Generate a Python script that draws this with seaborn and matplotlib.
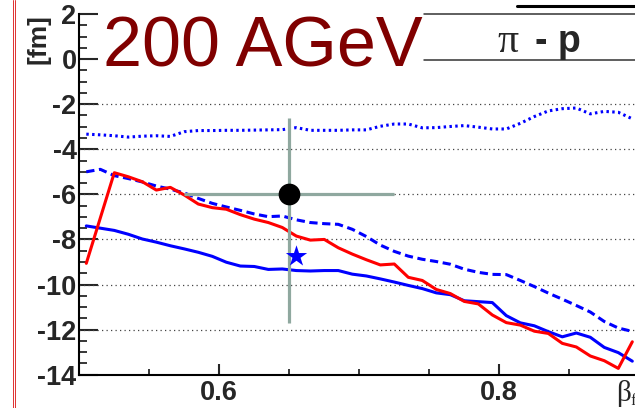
import numpy as np
import pandas as pd
import seaborn as sns
import matplotlib
matplotlib.use("Agg")
import matplotlib.pyplot as plt
from matplotlib.lines import Line2D

# beta_f bin centres
beta_f = [0.505, 0.515, 0.525, 0.535, 0.545, 0.555, 0.565, 0.575, 0.585, 0.595,
          0.605, 0.615, 0.625, 0.635, 0.645, 0.655, 0.665, 0.675, 0.685, 0.695,
          0.705, 0.715, 0.725, 0.735, 0.745, 0.755, 0.765, 0.775, 0.785, 0.795,
          0.805, 0.815, 0.825, 0.835, 0.845, 0.855, 0.865, 0.875, 0.885, 0.895]

# correlation radius [fm], pi - p
red_solid = [-9.06, -7.05, -5.04, -5.22, -5.44, -5.81, -5.69, -6.03, -6.43, -6.59,
             -6.66, -6.90, -7.10, -7.25, -7.47, -7.85, -8.03, -8.00, -8.37, -8.65,
             -8.90, -9.13, -9.09, -9.68, -9.82, -10.22, -10.40, -10.75, -10.86, -11.35,
             -11.69, -11.80, -12.07, -12.17, -12.61, -12.77, -13.17, -13.38, -13.72, -12.54]

blue_solid = [-7.40, -7.50, -7.60, -7.77, -7.98, -8.12, -8.28, -8.42, -8.57, -8.75,
              -9.01, -9.18, -9.20, -9.33, -9.31, -9.38, -9.40, -9.38, -9.38, -9.54,
              -9.62, -9.75, -9.89, -10.04, -10.18, -10.37, -10.45, -10.72, -10.76, -10.80,
              -11.38, -11.70, -11.83, -12.09, -12.32, -12.15, -12.34, -12.79, -13.02, -13.40]

blue_dashed = [-5.00, -4.89, -5.17, -5.30, -5.45, -5.63, -5.77, -5.94, -6.18, -6.40,
               -6.56, -6.71, -6.87, -6.99, -6.96, -7.13, -7.25, -7.30, -7.33, -7.55,
               -7.87, -8.25, -8.53, -8.74, -8.88, -8.98, -9.10, -9.32, -9.46, -9.55,
               -9.56, -9.82, -10.09, -10.38, -10.65, -10.93, -11.22, -11.64, -11.93, -12.08]

blue_dotted = [-3.33, -3.36, -3.40, -3.46, -3.42, -3.40, -3.43, -3.22, -3.17, -3.17,
               -3.16, -3.16, -3.15, -3.14, -3.13, -3.04, -3.16, -3.16, -3.16, -3.14,
               -3.14, -2.98, -2.88, -2.88, -3.05, -3.04, -2.99, -2.95, -3.02, -3.10,
               -3.10, -2.85, -2.55, -2.30, -2.20, -2.17, -2.43, -2.32, -2.36, -2.65]

# measured point with asymmetric errors
data_x = [0.65]
data_y = [-6.0]
data_xerr = [0.075]
data_yerr_low = [5.7]
data_yerr_high = [3.4]

# model point
star_x = [0.655]
star_y = [-8.75]

grid_levels = [-2, -4, -6, -8, -10, -12]
ytick_values = [-14, -12, -10, -8, -6, -4, -2, 0, 2]
xtick_values = [0.6, 0.8]
xtick_labels = ["0.6", "0.8"]

sns.set_style("ticks")
plt.rcParams["font.family"] = ["Liberation Sans", "DejaVu Sans"]
plt.rcParams["axes.unicode_minus"] = False

W, H = 635, 408
fig = plt.figure(figsize=(W / 100, H / 100), dpi=100)
fig.patch.set_facecolor("white")


def fx(px):
    return px / W


def fy(py):
    return 1 - py / H


ax = fig.add_axes([fx(79.3), fy(374.7), fx(639.3) - fx(79.3), fy(14) - fy(374.7)])
ax.set_facecolor("white")

df = pd.DataFrame({"beta_f": beta_f, "red_solid": red_solid, "blue_solid": blue_solid,
                   "blue_dashed": blue_dashed, "blue_dotted": blue_dotted})

for lvl in grid_levels:
    ax.axhline(lvl, color="#444444", lw=0.9, ls=(0, (1, 2.6)), zorder=1)

lw = 2.2
sns.lineplot(data=df, x="beta_f", y="blue_dotted", ax=ax, color="#0000ff", lw=lw,
             linestyle=(0, (0.8, 1.1)), zorder=3)
sns.lineplot(data=df, x="beta_f", y="blue_dashed", ax=ax, color="#0000ff", lw=lw,
             linestyle=(0, (2.7, 1.5)), zorder=3)
sns.lineplot(data=df, x="beta_f", y="blue_solid", ax=ax, color="#0000ff", lw=lw, zorder=3)
sns.lineplot(data=df, x="beta_f", y="red_solid", ax=ax, color="#ff0000", lw=lw, zorder=4)

ax.errorbar(data_x, data_y, xerr=data_xerr, yerr=[data_yerr_low, data_yerr_high],
            fmt="none", ecolor="#8fa89f", elinewidth=2.3, capsize=0, zorder=5)
sns.scatterplot(x=data_x, y=data_y, ax=ax, color="black", s=245, marker="o",
                edgecolor="black", linewidth=0, zorder=6)
sns.scatterplot(x=star_x, y=star_y, ax=ax, color="#0000ff", s=260, marker="*",
                edgecolor="#0000ff", linewidth=0, zorder=6)

ax.set_xlim(0.5, 0.9)
ax.set_ylim(-14, 2)
ax.set_xlabel("")
ax.set_ylabel("")

ax.set_xticks(xtick_values)
ax.set_xticklabels(xtick_labels)
ax.set_xticks([0.55, 0.65, 0.7, 0.75, 0.85], minor=True)
ax.set_yticks(ytick_values)
ax.set_yticklabels([str(v) for v in ytick_values])
ax.set_yticks([v + 0.5 * k for v in ytick_values[:-1] for k in (1, 2, 3)], minor=True)

for lab in ax.get_xticklabels() + ax.get_yticklabels():
    lab.set_fontweight("bold")
    lab.set_fontsize(19.5)

ax.tick_params(axis="y", which="major", direction="in", length=14, width=1.5, pad=2)
ax.tick_params(axis="y", which="minor", direction="in", length=6, width=1.3)
ax.tick_params(axis="x", which="major", direction="in", length=8, width=1.5, pad=4)
ax.tick_params(axis="x", which="minor", direction="in", length=4, width=1.3)

for side in ("top", "right"):
    ax.spines[side].set_visible(False)
for side in ("left", "bottom"):
    ax.spines[side].set_linewidth(1.5)
    ax.spines[side].set_color("black")

# axis titles
fig.text(fx(39), fy(14), "[fm]", rotation=90, ha="center", va="top",
         fontsize=19, fontweight="bold")
fig.text(fx(616), fy(401), "β", ha="left", va="baseline", fontsize=21,
         family=["Liberation Serif", "DejaVu Serif"])
fig.text(fx(630), fy(405), "f", ha="left", va="baseline", fontsize=12,
         family=["Liberation Serif", "DejaVu Serif"])

# energy label
fig.text(fx(103), fy(66.7), "200 AGeV", ha="left", va="baseline", fontsize=50.5,
         color="#800000")

# species box
fig.add_artist(Line2D([fx(424), fx(640)], [fy(14), fy(14)], transform=fig.transFigure,
                      color="#333333", lw=1.1))
fig.add_artist(Line2D([fx(424), fx(640)], [fy(60), fy(60)], transform=fig.transFigure,
                      color="#333333", lw=1.1))
fig.add_artist(Line2D([fx(517), fx(640)], [fy(6), fy(6)], transform=fig.transFigure,
                      color="black", lw=2.2))
fig.text(fx(497), fy(52), "π", ha="left", va="baseline", fontsize=30,
         family=["Liberation Serif", "DejaVu Serif"])
fig.text(fx(535), fy(52), "- p", ha="left", va="baseline", fontsize=27,
         fontweight="bold")

# frame of the neighbouring pad
for xpx in (12.7, 14.8):
    fig.add_artist(Line2D([fx(xpx), fx(xpx)], [0, 1], transform=fig.transFigure,
                          color="#e03030", lw=0.7))

fig.savefig("out.png", dpi=100, facecolor="white")
